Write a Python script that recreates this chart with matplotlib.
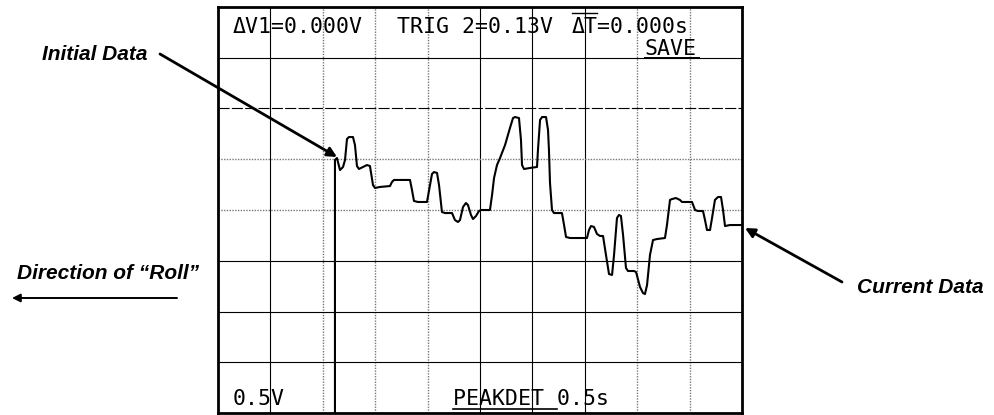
import numpy as np
import matplotlib.pyplot as plt

# roll-mode capture, 0.5 s/div horizontal, 0.5 V/div vertical
t = [1.116, 1.116, 1.135, 1.164, 1.193, 1.212, 1.231, 1.250, 1.288, 1.307,
     1.326, 1.345, 1.384, 1.422, 1.450, 1.479, 1.498, 1.546, 1.641, 1.660,
     1.679, 1.832, 1.851, 1.870, 1.908, 1.994, 2.023, 2.042, 2.061, 2.090,
     2.109, 2.137, 2.166, 2.233, 2.261, 2.290, 2.309, 2.338, 2.366, 2.385,
     2.414, 2.433, 2.462, 2.490, 2.510, 2.595, 2.615, 2.634, 2.662, 2.691,
     2.739, 2.786, 2.815, 2.834, 2.872, 2.891, 2.901, 2.920, 2.977, 3.044,
     3.053, 3.073, 3.092, 3.130, 3.149, 3.158, 3.168, 3.187, 3.206, 3.282,
     3.302, 3.321, 3.359, 3.521, 3.540, 3.559, 3.588, 3.616, 3.645, 3.674,
     3.702, 3.731, 3.760, 3.779, 3.807, 3.826, 3.845, 3.865, 3.893, 3.912,
     3.969, 3.989, 4.027, 4.055, 4.074, 4.094, 4.122, 4.151, 4.189, 4.265,
     4.284, 4.313, 4.332, 4.370, 4.408, 4.427, 4.523, 4.552, 4.580, 4.628,
     4.647, 4.666, 4.695, 4.714, 4.742, 4.771, 4.800, 4.819, 4.838, 4.885,
     5.0]
v = [-2.0, 0.493, 0.512, 0.394, 0.424, 0.493, 0.700, 0.719, 0.719, 0.640,
     0.433, 0.404, 0.424, 0.443, 0.433, 0.246, 0.217, 0.227, 0.236, 0.276,
     0.296, 0.296, 0.197, 0.089, 0.079, 0.079, 0.246, 0.355, 0.374, 0.365,
     0.246, -0.020, -0.030, -0.030, -0.099, -0.118, -0.099, 0.030, 0.069, 0.049,
     -0.049, -0.089, -0.059, -0.010, 0.0, 0.0, 0.148, 0.315, 0.443, 0.512,
     0.640, 0.808, 0.906, 0.916, 0.906, 0.690, 0.443, 0.404, 0.414, 0.424,
     0.591, 0.887, 0.916, 0.916, 0.788, 0.591, 0.266, 0.0, -0.030, -0.030,
     -0.148, -0.266, -0.276, -0.276, -0.197, -0.158, -0.167, -0.236, -0.256, -0.256,
     -0.443, -0.631, -0.640, -0.443, -0.079, -0.049, -0.059, -0.246, -0.571, -0.601,
     -0.601, -0.611, -0.759, -0.818, -0.828, -0.739, -0.443, -0.296, -0.286, -0.276,
     -0.148, 0.099, 0.108, 0.118, 0.099, 0.079, 0.079, 0.0, -0.010, -0.010,
     -0.099, -0.197, -0.197, -0.079, 0.099, 0.128, 0.128, 0.0, -0.158, -0.148,
     -0.148]

xgrid = [0.5, 1.0, 1.5, 2.0, 2.5, 3.0, 3.5, 4.0, 4.5]
ygrid = [1.5, 1.0, 0.5, 0.0, -0.5, -1.0, -1.5]
xgrid_style = ['s', 'd', 'd', 'd', 's', 's', 's', 'd', 'd']
ygrid_style = ['s', 'a', 'd', 'd', 's', 's', 's']

W, H = 994, 415
fig = plt.figure(figsize=(W / 100, H / 100), dpi=100)
ax = fig.add_axes([218 / W, 2 / H, 524 / W, 406 / H])
ax.set_xlim(0, 5)
ax.set_ylim(-2, 2)
ax.set_xticks([])
ax.set_yticks([])
for s in ax.spines.values():
    s.set_linewidth(2.0)

def gstyle(k):
    if k == 's':
        return dict(color='k', lw=0.8, ls='-')
    if k == 'a':
        return dict(color='k', lw=0.8, ls=(0, (10, 2)))
    return dict(color='#777777', lw=1.0, ls=(0, (1, 1)))

for x, k in zip(xgrid, xgrid_style):
    ax.axvline(x, zorder=1, **gstyle(k))
for y, k in zip(ygrid, ygrid_style):
    ax.axhline(y, zorder=1, **gstyle(k))

ax.plot(t, v, color='k', lw=1.5, zorder=3)

# screen readouts
mono = dict(family='DejaVu Sans Mono', fontsize=15.5, color='k', va='baseline')
ax.text(0.143, 1.744, 'ΔV1=0.000V', **mono)
ax.text(1.708, 1.744, 'TRIG 2=0.13V', **mono)
ax.text(3.378, 1.744, 'ΔT=0.000s', **mono)
ax.text(4.074, 1.527, 'SAVE', **mono)
ax.text(0.143, -1.921, '0.5V', **mono)
ax.text(2.242, -1.921, 'PEAKDET 0.5s', **mono)
ax.plot([3.378, 3.616], [1.941, 1.941], color='k', lw=1.0)
ax.plot([4.074, 4.59], [1.50, 1.50], color='k', lw=1.4)
ax.plot([2.242, 3.235], [-1.96, -1.96], color='k', lw=1.2)

# callouts
lab = dict(family='Liberation Sans', fontsize=15, fontweight='bold',
           fontstyle='italic', va='baseline')
fig.text(42 / W, 1 - 60 / H, 'Initial Data', **lab)
fig.text(857 / W, 1 - 293 / H, 'Current Data', **lab)
fig.text(17 / W, 1 - 279 / H, 'Direction of \u201cRoll\u201d', **lab)

arr = dict(arrowstyle='-|>', color='k', lw=2.0, mutation_scale=14,
           shrinkA=0, shrinkB=0)
fig.add_artist(plt.matplotlib.patches.FancyArrowPatch(
    (160 / W, 1 - 54 / H), (337 / W, 1 - 157 / H),
    transform=fig.transFigure, **arr))
fig.add_artist(plt.matplotlib.patches.FancyArrowPatch(
    (842 / W, 1 - 282 / H), (745 / W, 1 - 228 / H),
    transform=fig.transFigure, **arr))
arr2 = dict(arr, lw=1.4, mutation_scale=12)
fig.add_artist(plt.matplotlib.patches.FancyArrowPatch(
    (177 / W, 1 - 298 / H), (12 / W, 1 - 298 / H),
    transform=fig.transFigure, **arr2))

fig.savefig('out.png', dpi=100)
